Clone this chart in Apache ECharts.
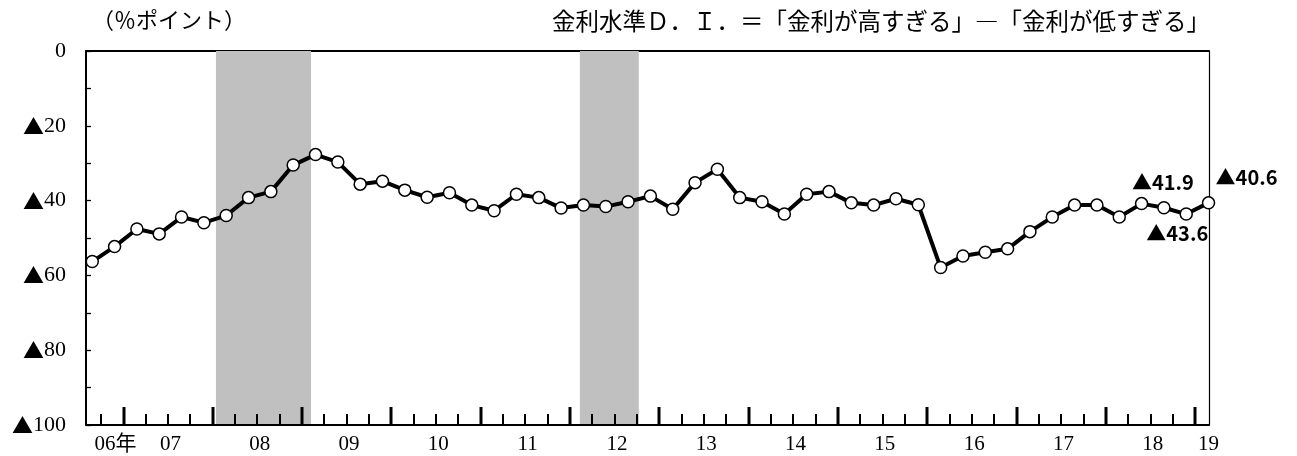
<!DOCTYPE html>
<html><head><meta charset="utf-8">
<script src="https://cdn.jsdelivr.net/npm/echarts@6/dist/echarts.min.js"></script>
<style>html,body{margin:0;padding:0;background:#fff}#c{width:1297px;height:456px}</style>
</head><body><div id="c"></div>
<script>
// ---- data ----
const yearLabels = ['06年','07','08','09','10','11','12','13','14','15','16','17','18','19'];
const firstQuarter = 3; // first point = 2006 Q3 (quarterly survey)
const values = [-56.3,-52.3,-47.6,-48.9,-44.4,-45.9,-44.0,-39.2,-37.6,-30.5,-27.7,-29.7,-35.6,-34.8,-37.2,-39.1,-37.9,
  -41.2,-42.7,-38.3,-39.2,-42.0,-41.2,-41.6,-40.3,-38.8,-42.3,-35.2,-31.6,-39.2,-40.3,-43.6,-38.3,-37.6,-40.6,-41.2,
  -39.5,-41.1,-57.9,-54.8,-53.8,-52.9,-48.3,-44.4,-41.2,-41.2,-44.4,-40.8,-41.9,-43.6,-40.6];
const recessions = [[5.54, 9.8],[21.84, 24.48]]; // in quarter-index units
const yTicks = [0,-20,-40,-60,-80,-100];

// ---- derived ----
const n = values.length;
const axisMin = -0.28, axisMax = n - 1 + 0.02;
const yMin = -100;
const tickOffset = 0.4;
const quarterOf = i => ((firstQuarter - 1 + i) % 4) + 1;
const ticks = [];
for (let i = 0; i < n - 1; i++) ticks.push([i + tickOffset, yMin, quarterOf(i + 1) === 1 ? 1 : 0]);
const labelPos = yearLabels.map((l, k) => {
  if (k === 0) return 1.04;
  if (k === yearLabels.length - 1) return n - 1;
  return k * 4 - (firstQuarter - 1) + 1.5;
});

const serif = "'Liberation Serif','Noto Sans CJK JP',serif";
const cjk = "'Noto Sans CJK JP',sans-serif";
const dataLabel = (dx, dy) => ({
  show: true, position: 'inside', align: 'center', verticalAlign: 'middle', offset: [dx, dy],
  formatter: p => '▲' + Math.abs(p.value[1]).toFixed(1),
  fontFamily: cjk, fontWeight: 'bold', fontSize: 20, color: '#000'
});
const labelCfg = {};
labelCfg[n - 3] = dataLabel(-1, -25);
labelCfg[n - 2] = dataLabel(-9, 19);
labelCfg[n - 1] = dataLabel(38, -25);

const chart = echarts.init(document.getElementById('c'), null, {renderer: 'canvas'});
chart.setOption({
  animation: false,
  backgroundColor: '#fff',
  title: [
    {text: '（％ポイント）', left: 92, top: 9, padding: 0,
     textStyle: {fontSize: 22, fontWeight: 'normal', color: '#000', fontFamily: cjk}},
    {text: '金利水準Ｄ．Ｉ．＝「金利が高すぎる」―「金利が低すぎる」', right: 87, top: 9, padding: 0,
     textStyle: {fontSize: 23.5, fontWeight: 'normal', color: '#000', fontFamily: cjk}}
  ],
  grid: {left: 86, right: 88, top: 51, bottom: 31, containLabel: false},
  xAxis: [
    {type: 'value', min: axisMin, max: axisMax, position: 'bottom', z: 3,
     axisLine: {show: true, onZero: false, lineStyle: {color: '#000', width: 2}},
     axisTick: {show: false},
     axisLabel: {show: true, customValues: labelPos, margin: 9, fontSize: 21, color: '#000', fontFamily: serif,
       formatter: v => { let best = 0; labelPos.forEach((p, k) => { if (Math.abs(p - v) < Math.abs(labelPos[best] - v)) best = k; }); return yearLabels[best]; }},
     splitLine: {show: false}},
    {type: 'value', min: axisMin, max: axisMax, position: 'top',
     axisLine: {show: true, onZero: false, lineStyle: {color: '#000', width: 2}},
     axisTick: {show: false}, axisLabel: {show: false}, splitLine: {show: false}}
  ],
  yAxis: [
    {type: 'value', min: yMin, max: 0, interval: 10, position: 'left',
     axisLine: {show: true, onZero: false, lineStyle: {color: '#000', width: 2}},
     axisTick: {show: true, inside: true, length: 5, lineStyle: {color: '#000', width: 1.3}},
     axisLabel: {margin: 20, fontSize: 21, color: '#000', fontFamily: serif,
       formatter: v => yTicks.indexOf(v) < 0 ? '' : (v < 0 ? '{t|▲}{n|' + Math.abs(v) + '}' : '{n|' + v + '}'),
       rich: {t: {fontFamily: cjk, fontSize: 21, color: '#000'}, n: {fontFamily: serif, fontSize: 22, color: '#000'}}},
     splitLine: {show: false}},
    {type: 'value', min: yMin, max: 0, position: 'right',
     axisLine: {show: true, onZero: false, lineStyle: {color: '#000', width: 1.2}},
     axisTick: {show: false}, axisLabel: {show: false}, splitLine: {show: false}}
  ],
  series: [{
    type: 'line', xAxisIndex: 0, yAxisIndex: 0,
    data: values.map((v, i) => labelCfg[i] ? {value: [i, v], label: labelCfg[i]} : {value: [i, v]}),
    symbol: 'circle', symbolSize: 12, showAllSymbol: true,
    lineStyle: {color: '#000', width: 4},
    itemStyle: {color: '#fff', borderColor: '#000', borderWidth: 1.5},
    label: {show: false},
    markArea: {silent: true, itemStyle: {color: '#c0c0c0'},
      data: recessions.map(b => [{xAxis: b[0]}, {xAxis: b[1]}])}
  }, {
    // quarter / year tick marks on the bottom axis, on their own top layer
    type: 'custom', xAxisIndex: 0, yAxisIndex: 0, silent: true, zlevel: 1, z: 10, clip: false,
    encode: {x: 0, y: 1},
    data: ticks,
    renderItem: (params, api) => {
      const p = api.coord([api.value(0), api.value(1)]);
      const major = api.value(2) === 1;
      const len = major ? 18 : 11, w = major ? 3 : 2;
      const x = Math.round(p[0]);
      return {type: 'rect', shape: {x: x - w / 2, y: p[1] - len, width: w, height: len},
              style: {fill: '#000'}};
    }
  }]
});
</script></body></html>
